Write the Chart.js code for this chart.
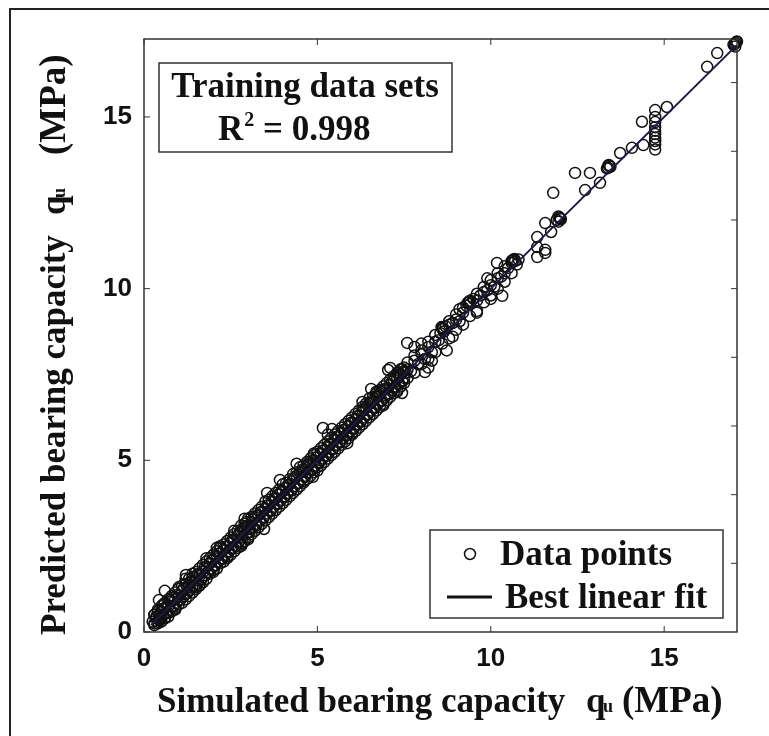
<!DOCTYPE html>
<html>
<head>
<meta charset="utf-8">
<script src="https://cdn.jsdelivr.net/npm/chart.js@4.4.1/dist/chart.umd.min.js"></script>
<style>
  html, body { margin: 0; padding: 0; background: #fff; }
  canvas { display: block; }
</style>
</head>
<body>
<canvas id="fitChart" width="769" height="736"></canvas>
<script>
// simulated vs predicted bearing capacity (MPa), training set
const simulated = [
  0.25, 0.30, 0.35, 0.40, 0.45, 0.50, 0.50, 0.55, 0.60, 0.65,
  0.70, 0.75, 0.80, 0.85, 0.90, 0.95, 1.00, 1.05, 1.10, 1.15,
  0.30, 0.40, 0.60, 0.45, 0.70, 0.55, 0.80, 0.90, 1.00, 1.20,
  1.25, 1.30, 1.35, 1.40, 1.50, 1.55, 1.60, 1.65, 1.70, 1.75,
  1.80, 1.85, 1.90, 1.95, 2.00, 2.05, 2.10, 2.15, 2.20, 2.25,
  2.30, 2.35, 2.40, 2.45, 2.50, 2.55, 2.60, 2.65, 2.70, 2.75,
  2.80, 2.85, 2.90, 2.95, 3.00, 1.40, 1.60, 1.80, 2.00, 2.20,
  2.40, 2.60, 2.80, 1.20, 1.50, 0.43, 0.60, 1.21, 1.60, 2.10,
  3.05, 3.10, 3.15, 3.20, 3.25, 3.30, 3.35, 3.40, 3.45, 3.50,
  3.55, 3.60, 3.65, 3.70, 3.75, 3.80, 3.85, 3.90, 3.95, 4.00,
  4.05, 4.10, 4.15, 4.20, 4.25, 4.30, 4.35, 4.40, 4.45, 4.50,
  4.55, 4.60, 4.65, 4.70, 4.75, 4.80, 4.85, 4.90, 4.95, 3.46,
  3.55, 3.92, 4.87, 2.90, 3.00, 2.95, 4.40, 4.60, 2.85, 3.00,
  5.00, 5.05, 5.10, 5.15, 5.20, 5.25, 5.30, 5.35, 5.40, 5.45,
  5.50, 5.55, 5.60, 5.65, 5.70, 5.75, 5.80, 5.85, 5.90, 5.95,
  6.00, 6.05, 6.10, 6.15, 6.20, 6.25, 6.30, 6.35, 6.40, 6.45,
  6.50, 6.55, 6.60, 6.65, 6.70, 6.75, 6.80, 6.85, 6.90, 6.95,
  7.00, 7.05, 7.10, 7.15, 7.20, 7.25, 7.30, 7.35, 7.40, 7.45,
  7.50, 7.50, 7.55, 5.16, 5.42, 6.55, 7.04, 5.86, 7.10, 7.44,
  5.30, 5.00, 6.00, 6.30, 6.90, 7.35, 7.45, 7.30, 6.70, 4.90,
  7.60, 7.70, 7.80, 7.90, 8.00, 8.10, 8.20, 8.30, 8.40, 8.50,
  8.55, 8.60, 8.65, 8.70, 8.80, 8.90, 9.00, 9.10, 9.20, 9.30,
  9.35, 9.40, 9.50, 9.60, 9.70, 9.80, 9.90, 10.00, 10.10, 10.20,
  10.30, 10.40, 10.50, 10.60, 10.65, 10.70, 7.59, 8.10, 10.33, 10.18,
  8.73, 8.30, 8.00, 8.90, 9.10, 9.60, 9.90, 10.00, 7.80, 8.20,
  10.80, 10.75, 11.34, 11.57, 11.57, 11.34, 11.34, 11.74, 11.57, 11.90,
  11.95, 12.00, 11.95, 11.80, 12.43, 12.86, 13.15, 12.72, 13.35, 13.40,
  13.45, 13.73, 14.07, 14.40, 14.36, 14.74, 14.74, 14.74, 14.74, 14.74,
  14.74, 14.74, 14.74, 14.74, 14.74, 15.08, 16.24, 16.53, 17.00, 17.05,
  17.10, 17.05,
  // upper edge of the band
  0.30, 0.40, 0.50, 0.60, 0.70, 0.80, 0.90, 1.00, 1.10, 1.20,
  1.30, 1.40, 1.50, 1.60, 1.70, 1.80, 1.90, 2.00, 2.10, 2.20,
  2.30, 2.40, 2.50, 2.60, 2.70, 2.80, 2.90, 3.00, 3.10, 3.20,
  3.30, 3.40, 3.50, 3.60, 3.70, 3.80, 3.90, 4.00, 4.10, 4.20,
  4.30, 4.40, 4.50, 4.60, 4.70, 4.80, 4.90, 5.00, 5.10, 5.20,
  5.30, 5.40, 5.50, 5.60, 5.70, 5.80, 5.90, 6.00, 6.10, 6.20,
  6.30, 6.40, 6.50, 6.60, 6.70, 6.80, 6.90, 7.00, 7.10, 7.20,
  7.30, 7.40, 7.50,
  // lower edge of the band
  0.30, 0.40, 0.50, 0.60, 0.70, 0.80, 0.90, 1.00, 1.10, 1.20,
  1.30, 1.40, 1.50, 1.60, 1.70, 1.80, 1.90, 2.00, 2.10, 2.20,
  2.30, 2.40, 2.50, 2.60, 2.70, 2.80, 2.90, 3.00, 3.10, 3.20,
  3.30, 3.40, 3.50, 3.60, 3.70, 3.80, 3.90, 4.00, 4.10, 4.20,
  4.30, 4.40, 4.50, 4.60, 4.70, 4.80, 4.90, 5.00, 5.10, 5.20,
  5.30, 5.40, 5.50, 5.60, 5.70, 5.80, 5.90, 6.00, 6.10, 6.20,
  6.30, 6.40, 6.50, 6.60, 6.70, 6.80, 6.90, 7.00, 7.10, 7.20,
  7.30, 7.40, 7.50,
  // inner part of the band
  0.35, 0.45, 0.55, 0.65, 0.75, 0.85, 0.95, 1.05, 1.15, 1.25,
  1.35, 1.45, 1.55, 1.65, 1.75, 1.85, 1.95, 2.05, 2.15, 2.25,
  2.35, 2.45, 2.55, 2.65, 2.75, 2.85, 2.95, 3.05, 3.15, 3.25,
  3.35, 3.45, 3.55, 3.65, 3.75, 3.85, 3.95, 4.05, 4.15, 4.25,
  4.35, 4.45, 4.55, 4.65, 4.75, 4.85, 4.95, 5.05, 5.15, 5.25,
  5.35, 5.45, 5.55, 5.65, 5.75, 5.85, 5.95, 6.05, 6.15, 6.25,
  6.35, 6.45, 6.55, 6.65, 6.75, 6.85, 6.95, 7.05, 7.15, 7.25,
  7.35, 7.45,
  // 7.6 - 10.6 spread
  7.60, 7.80, 8.00, 8.20, 8.40, 8.60, 8.80, 9.00, 9.20, 9.40,
  9.60, 9.80, 10.00, 10.20, 10.40, 10.60,
  7.60, 7.80, 8.00, 8.20, 8.40, 8.60, 8.80, 9.00, 9.20, 9.40,
  9.60, 9.80, 10.00, 10.20, 10.40, 10.60,
  // dense knots
  8.62, 8.58, 9.33, 9.38, 10.62, 10.68, 11.98, 12.02, 13.38, 13.42,
  17.08, 17.02
];
const predicted = [
  0.30, 0.25, 0.40, 0.30, 0.50, 0.40, 0.60, 0.50, 0.70, 0.55,
  0.75, 0.65, 0.90, 0.75, 0.95, 0.85, 1.05, 0.95, 1.20, 1.05,
  0.50, 0.60, 0.40, 0.35, 0.55, 0.80, 1.00, 0.70, 1.30, 1.10,
  1.30, 1.20, 1.45, 1.35, 1.50, 1.40, 1.70, 1.55, 1.75, 1.65,
  1.90, 1.75, 2.00, 1.85, 2.10, 1.95, 2.20, 2.05, 2.30, 2.15,
  2.40, 2.25, 2.50, 2.35, 2.60, 2.45, 2.70, 2.50, 2.80, 2.65,
  2.95, 2.75, 3.05, 2.85, 3.10, 1.70, 1.35, 2.15, 1.80, 2.50,
  2.20, 2.95, 2.55, 1.55, 1.25, 0.93, 1.20, 1.66, 1.63, 2.45,
  3.00, 3.20, 3.05, 3.35, 3.15, 3.40, 3.25, 3.50, 3.35, 3.60,
  3.45, 3.70, 3.55, 3.80, 3.65, 3.90, 3.75, 4.00, 3.85, 4.10,
  3.95, 4.20, 4.05, 4.30, 4.15, 4.45, 4.25, 4.55, 4.35, 4.65,
  4.45, 4.75, 4.55, 4.85, 4.65, 4.95, 4.75, 5.00, 4.85, 3.00,
  4.05, 4.43, 4.52, 3.30, 2.70, 3.20, 4.90, 4.40, 2.60, 2.90,
  5.10, 4.95, 5.20, 5.05, 5.30, 5.15, 5.40, 5.25, 5.50, 5.35,
  5.60, 5.45, 5.70, 5.55, 5.80, 5.65, 5.90, 5.75, 6.00, 5.85,
  6.10, 5.95, 6.20, 6.05, 6.30, 6.15, 6.45, 6.25, 6.55, 6.35,
  6.65, 6.45, 6.75, 6.55, 6.85, 6.65, 6.95, 6.75, 7.05, 6.85,
  7.10, 6.95, 7.20, 7.05, 7.35, 7.15, 7.40, 7.25, 7.50, 7.30,
  7.60, 7.40, 7.55, 5.94, 5.91, 7.08, 7.63, 5.50, 7.69, 6.96,
  5.75, 4.70, 5.80, 6.70, 6.60, 7.55, 7.65, 7.00, 7.00, 5.20,
  7.65, 7.60, 7.90, 7.80, 8.10, 7.95, 8.30, 8.15, 8.45, 8.50,
  8.70, 8.85, 8.75, 8.90, 8.95, 9.00, 9.10, 9.05, 9.30, 9.50,
  9.60, 9.55, 9.70, 9.65, 9.80, 9.90, 9.95, 10.10, 10.05, 10.30,
  10.35, 10.45, 10.60, 10.75, 10.84, 10.80, 8.42, 7.57, 9.79, 10.75,
  8.20, 7.90, 8.40, 8.60, 9.40, 9.30, 10.30, 9.70, 8.30, 7.70,
  10.85, 10.70, 10.92, 11.04, 11.13, 11.21, 11.50, 11.65, 11.91, 12.00,
  12.10, 12.05, 11.95, 12.79, 13.37, 13.37, 13.08, 12.87, 13.50, 13.60,
  13.55, 13.95, 14.10, 14.18, 14.86, 15.20, 15.00, 14.85, 14.70, 14.60,
  14.50, 14.40, 14.30, 14.20, 14.05, 15.29, 16.46, 16.86, 17.10, 17.15,
  17.20, 17.05,
  // upper edge of the band
  0.50, 0.65, 0.75, 0.85, 0.95, 1.05, 1.15, 1.25, 1.35, 1.40,
  1.55, 1.60, 1.75, 1.85, 1.95, 2.05, 2.15, 2.25, 2.35, 2.45,
  2.55, 2.65, 2.75, 2.85, 2.95, 3.10, 3.15, 3.30, 3.35, 3.45,
  3.55, 3.65, 3.80, 3.85, 3.95, 4.05, 4.15, 4.30, 4.35, 4.45,
  4.60, 4.65, 4.80, 4.85, 4.95, 5.05, 5.15, 5.25, 5.35, 5.45,
  5.55, 5.65, 5.75, 5.85, 5.95, 6.05, 6.15, 6.25, 6.35, 6.45,
  6.55, 6.65, 6.80, 6.85, 6.95, 7.05, 7.15, 7.25, 7.35, 7.45,
  7.55, 7.65, 7.70,
  // lower edge of the band
  0.20, 0.25, 0.30, 0.40, 0.45, 0.60, 0.65, 0.80, 0.85, 0.95,
  1.05, 1.15, 1.30, 1.35, 1.45, 1.55, 1.70, 1.75, 1.85, 2.00,
  2.05, 2.15, 2.25, 2.35, 2.45, 2.50, 2.65, 2.75, 2.85, 2.95,
  3.05, 3.15, 3.25, 3.35, 3.45, 3.55, 3.65, 3.75, 3.85, 3.95,
  4.05, 4.15, 4.25, 4.35, 4.45, 4.55, 4.65, 4.80, 4.85, 4.95,
  5.05, 5.15, 5.25, 5.35, 5.45, 5.55, 5.65, 5.75, 5.85, 5.95,
  6.05, 6.15, 6.25, 6.35, 6.45, 6.55, 6.65, 6.75, 6.85, 6.95,
  7.05, 7.15, 7.25,
  // inner part of the band
  0.45, 0.38, 0.68, 0.55, 0.88, 0.76, 1.08, 0.94, 1.28, 1.14,
  1.48, 1.33, 1.68, 1.52, 1.88, 1.74, 2.08, 1.93, 2.28, 2.12,
  2.48, 2.33, 2.68, 2.52, 2.88, 2.97, 3.08, 2.91, 3.28, 3.12,
  3.48, 3.33, 3.68, 3.52, 3.88, 3.73, 4.08, 3.92, 4.28, 4.12,
  4.48, 4.33, 4.68, 4.52, 4.88, 4.73, 5.08, 4.92, 5.28, 5.12,
  5.48, 5.33, 5.68, 5.52, 5.88, 5.73, 6.08, 5.92, 6.28, 6.12,
  6.48, 6.33, 6.68, 6.52, 6.88, 6.73, 7.08, 6.92, 7.28, 7.12,
  7.48, 7.33,
  // 7.6 - 10.6 spread
  7.85, 8.05, 8.20, 8.45, 8.65, 8.85, 9.05, 9.25, 9.45, 9.65,
  9.85, 10.05, 10.25, 10.45, 10.65, 10.80,
  7.40, 7.55, 7.80, 7.95, 8.15, 8.40, 8.55, 8.80, 8.95, 9.20,
  9.35, 9.60, 9.80, 10.00, 10.20, 10.45,
  // dense knots
  8.82, 8.88, 9.58, 9.62, 10.82, 10.86, 12.07, 12.02, 13.52, 13.58,
  17.18, 17.12
];

// best linear fit end points
const fitX = [0.2, 17.1];
const fitY = [0.2, 17.1];

const xTicks = [0, 5, 10, 15];
const yTicks = [0, 5, 10, 15];
const rightTicks = [2, 4, 6, 8, 10, 12, 14, 16];

const SERIF = '"Liberation Serif", "Times New Roman", serif';
const SANS = '"Liberation Sans", Arial, sans-serif';

const points = simulated.map((x, i) => ({ x: x, y: predicted[i] }));
const fitLine = fitX.map((x, i) => ({ x: x, y: fitY[i] }));

// writes "<label>  qu  (MPa)" starting at the current origin
function axisTitle(c, label, qAt, mpaAt) {
  c.font = 'bold 35px ' + SERIF;
  c.fillText(label, 0, 0);
  c.fillText('q', qAt, 0);
  c.font = 'bold 18px ' + SERIF;
  c.fillText('u', qAt + 17, 0);
  c.font = 'bold 37px ' + SERIF;
  c.fillText('(MPa)', mpaAt, 0);
}

// draws the boxed axes, inward ticks, labels, text box and legend
const decorations = {
  id: 'decorations',
  afterDatasetsDraw(chart) {
    const c = chart.ctx;
    const a = chart.chartArea;
    const xs = chart.scales.x;
    const ys = chart.scales.y;

    c.save();
    // outer figure frame
    c.strokeStyle = '#222';
    c.lineWidth = 2;
    c.beginPath();
    c.moveTo(10, 736);
    c.lineTo(10, 9);
    c.lineTo(769, 9);
    c.stroke();

    // plot box
    c.strokeStyle = '#333';
    c.lineWidth = 1.5;
    c.strokeRect(a.left, a.top, a.right - a.left, a.bottom - a.top);

    // ticks pointing inward
    c.lineWidth = 1;
    c.beginPath();
    xTicks.forEach(v => {
      const px = xs.getPixelForValue(v);
      c.moveTo(px, a.bottom); c.lineTo(px, a.bottom - 6);
      c.moveTo(px, a.top); c.lineTo(px, a.top + 6);
    });
    yTicks.forEach(v => {
      const py = ys.getPixelForValue(v);
      c.moveTo(a.left, py); c.lineTo(a.left + 6, py);
    });
    rightTicks.forEach(v => {
      const py = ys.getPixelForValue(v);
      c.moveTo(a.right, py); c.lineTo(a.right - 6, py);
    });
    c.stroke();

    // tick labels
    c.fillStyle = '#111';
    c.font = 'bold 26px ' + SANS;
    c.textAlign = 'center';
    c.textBaseline = 'middle';
    xTicks.forEach(v => c.fillText(String(v), xs.getPixelForValue(v), 659));
    c.textAlign = 'right';
    yTicks.forEach(v => c.fillText(String(v), 132, ys.getPixelForValue(v)));

    // axis titles
    c.textAlign = 'left';
    c.textBaseline = 'alphabetic';
    c.save();
    c.translate(157, 712);
    axisTitle(c, 'Simulated bearing capacity', 429, 465);
    c.restore();

    c.save();
    c.translate(65, 635);
    c.rotate(-Math.PI / 2);
    axisTitle(c, 'Predicted bearing capacity', 420, 480);
    c.restore();

    // text box with the fit statistic
    c.fillStyle = '#fff';
    c.fillRect(159, 63, 293, 89);
    c.strokeStyle = '#333';
    c.lineWidth = 1.5;
    c.strokeRect(159, 63, 293, 89);
    c.fillStyle = '#111';
    c.textAlign = 'center';
    c.font = 'bold 35px ' + SERIF;
    c.fillText('Training data sets', 305, 97);
    c.textAlign = 'left';
    c.fillText('R', 218, 140);
    const rw = c.measureText('R').width;
    c.font = 'bold 20px ' + SERIF;
    c.fillText('2', 218 + rw + 1, 126);
    c.font = 'bold 35px ' + SERIF;
    c.fillText(' = 0.998', 218 + rw + 11, 140);

    // legend
    c.fillStyle = '#fff';
    c.fillRect(430, 530, 293, 88);
    c.strokeStyle = '#333';
    c.lineWidth = 1.5;
    c.strokeRect(430, 530, 293, 88);
    c.strokeStyle = '#111';
    c.lineWidth = 1.5;
    c.beginPath();
    c.arc(470, 554, 5.5, 0, Math.PI * 2);
    c.stroke();
    c.lineWidth = 3;
    c.beginPath();
    c.moveTo(447, 597); c.lineTo(492, 597);
    c.stroke();
    c.fillStyle = '#111';
    c.font = 'bold 35px ' + SERIF;
    c.fillText('Data points', 500, 565);
    c.fillText('Best linear fit', 505, 608);
    c.restore();
  }
};

const ctx = document.getElementById('fitChart').getContext('2d');

const fitChart = new Chart(ctx, {
  type: 'scatter',
  data: {
    datasets: [
      {
        label: 'Best linear fit',
        type: 'line',
        data: fitLine,
        borderColor: '#1c1c4a',
        borderWidth: 2,
        pointRadius: 0,
        fill: false,
        order: 0
      },
      {
        label: 'Data points',
        data: points,
        pointStyle: 'circle',
        pointRadius: 5.5,
        borderColor: '#111',
        backgroundColor: 'rgba(0,0,0,0)',
        borderWidth: 1.5,
        clip: false,
        order: 1
      }
    ]
  },
  options: {
    responsive: false,
    animation: false,
    layout: {
      padding: { left: 144, right: 32, top: 39, bottom: 104 }
    },
    plugins: {
      legend: { display: false },
      tooltip: { enabled: false }
    },
    scales: {
      x: { type: 'linear', min: 0, max: 17.1, display: false },
      y: { type: 'linear', min: 0, max: 17.27, display: false }
    }
  },
  plugins: [decorations]
});
</script>
</body>
</html>
